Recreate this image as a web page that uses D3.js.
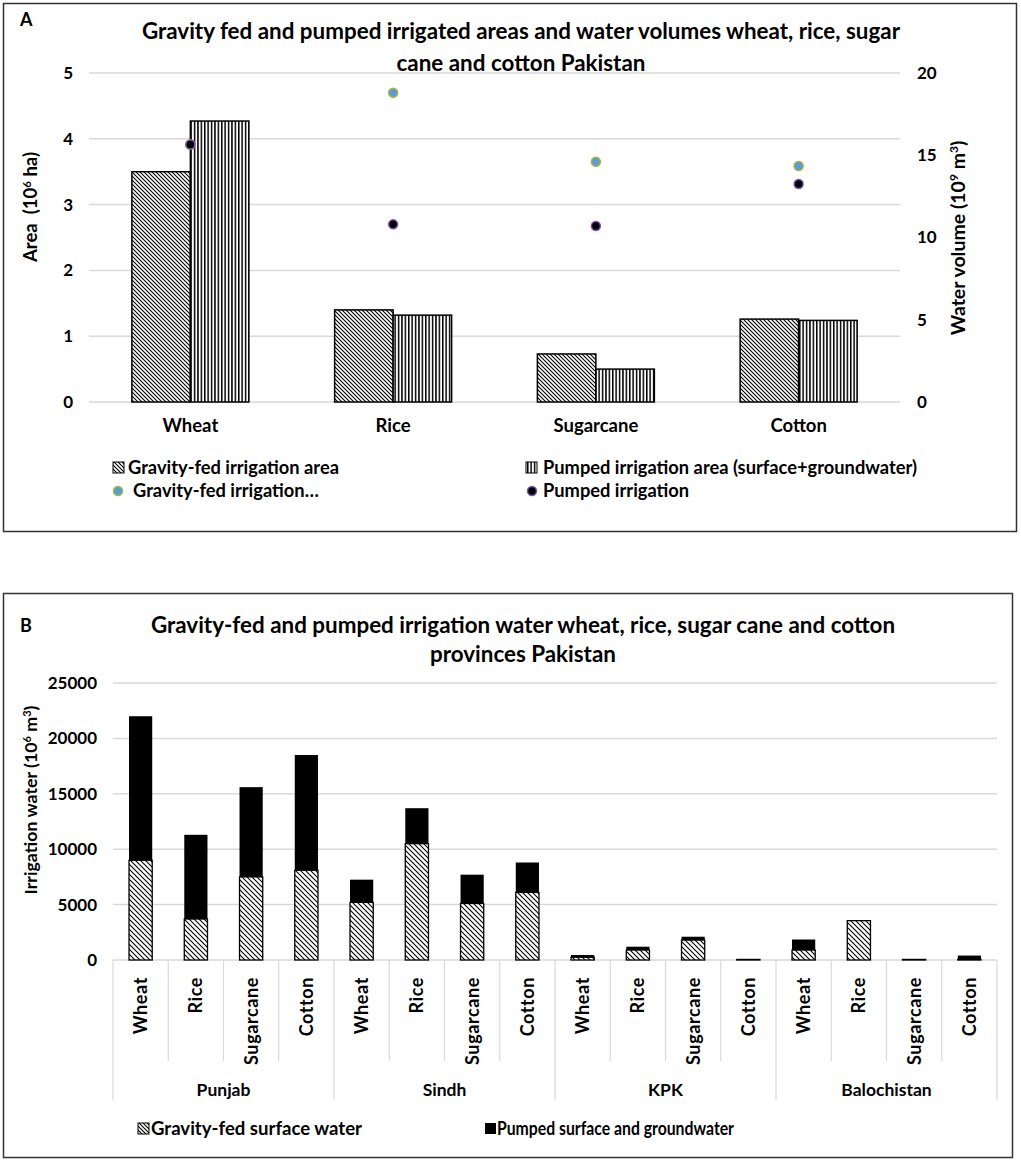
<!DOCTYPE html>
<html>
<head>
<meta charset="utf-8">
<script src="https://cdn.jsdelivr.net/npm/d3@7"></script>
<style>
body{margin:0;background:#fff;}
text{font-family:Lato,"Open Sans",sans-serif;font-weight:bold;fill:#000;}
</style>
</head>
<body>
<svg id="fig" width="1021" height="1163"></svg>
<script>
// panel A data
var cropsA = ["Wheat","Rice","Sugarcane","Cotton"];
var gravityArea = [3.5,1.4,0.73,1.26];
var pumpedArea = [4.27,1.32,0.5,1.24];
var gravityVol = [15.65,18.8,14.6,14.35];
var pumpedVol = [15.65,10.8,10.7,13.25];
var areaTicks = [0,1,2,3,4,5];
var volTicks = [0,5,10,15,20];

// panel B data
var provinces = ["Punjab","Sindh","KPK","Balochistan"];
var cropsB = ["Wheat","Rice","Sugarcane","Cotton"];
var gravityWater = [9000,3700,7500,8100, 5200,10500,5100,6100, 250,900,1800,50, 900,3550,50,50];
var pumpedWater = [13000,7600,8100,10400, 2050,3200,2600,2700, 200,300,300,30, 950,0,30,350];
var waterTicks = [0,5000,10000,15000,20000,25000];

var FONT = "Lato,'Open Sans',sans-serif";
var svg = d3.select("#fig");
var defs = svg.append("defs");

function diagPattern(id,s){
	var p = defs.append("pattern").attr("id",id).attr("patternUnits","userSpaceOnUse")
		.attr("width",s).attr("height",s);
	p.append("rect").attr("width",s).attr("height",s).attr("fill","#fff");
	p.append("path").attr("d","M0,0L"+s+","+s+"M-1,"+(s-1)+"L1,"+(s+1)+"M"+(s-1)+",-1L"+(s+1)+",1")
		.attr("stroke","#000").attr("stroke-width",1.1);
}
diagPattern("diagA",4);
diagPattern("diagB",5);
var pv = defs.append("pattern").attr("id","vert").attr("patternUnits","userSpaceOnUse")
	.attr("width",3.4).attr("height",4);
pv.append("rect").attr("width",3.4).attr("height",4).attr("fill","#fff");
pv.append("rect").attr("x",0).attr("width",1.5).attr("height",4).attr("fill","#000");

// frames
svg.append("rect").attr("x",3.5).attr("y",3.5).attr("width",1013).attr("height",528)
	.attr("fill","none").attr("stroke","#333").attr("stroke-width",1.5);
svg.append("rect").attr("x",3.5).attr("y",593.5).attr("width",1009).attr("height",564)
	.attr("fill","none").attr("stroke","#333").attr("stroke-width",1.5);

function supText(g,x,y,rot,parts,size){
	var t = g.append("text").attr("transform","translate("+x+","+y+") rotate("+rot+")")
		.attr("text-anchor","middle").attr("font-size",size).attr("xml:space","preserve");
	parts.forEach(function(p){
		if (p[1]) t.append("tspan").attr("baseline-shift","super").attr("font-size",size*0.62).text(p[0]);
		else t.append("tspan").text(p[0]);
	});
	return t;
}
function styleAxis(ax,size){
	ax.select(".domain").remove();
	ax.selectAll("text").attr("font-size",size).style("font-family",FONT).style("font-weight","bold");
}

// ---------- panel A ----------
var gA = svg.append("g");
gA.append("text").attr("x",20).attr("y",26).attr("font-size",18).text("A");
gA.append("text").attr("x",521).attr("y",39).attr("text-anchor","middle").attr("font-size",22.4)
	.text("Gravity fed and pumped irrigated areas and water volumes wheat, rice, sugar");
gA.append("text").attr("x",521).attr("y",71).attr("text-anchor","middle").attr("font-size",22.4)
	.text("cane and cotton Pakistan");

var xA = d3.scaleBand().domain(cropsA).range([89,900]);
var subA = d3.scaleBand().domain(["g","p"]).range([0,xA.bandwidth()]).paddingOuter(0.733);
var yA = d3.scaleLinear().domain([0,5]).range([402,73]);
var yV = d3.scaleLinear().domain([0,20]).range([402,73]);

gA.append("g").selectAll("line").data(areaTicks).enter().append("line")
	.attr("x1",89).attr("x2",900).attr("y1",function(d){return yA(d);}).attr("y2",function(d){return yA(d);})
	.attr("stroke","#d9d9d9").attr("stroke-width",1.5);

var axL = gA.append("g").attr("transform","translate(89,0)")
	.call(d3.axisLeft(yA).tickValues(areaTicks).tickFormat(d3.format("d")).tickSize(0).tickPadding(16));
styleAxis(axL,17);

var axR = gA.append("g").attr("transform","translate(900,0)")
	.call(d3.axisRight(yV).tickValues(volTicks).tickFormat(d3.format("d")).tickSize(0).tickPadding(17));
styleAxis(axR,17);

var axB = gA.append("g").attr("transform","translate(0,402)")
	.call(d3.axisBottom(xA).tickSize(0).tickPadding(17));
styleAxis(axB,18.5);

gA.append("g").selectAll("rect").data(cropsA).enter().append("rect")
	.attr("x",function(d){return xA(d)+subA("g");}).attr("width",subA.bandwidth())
	.attr("y",function(d,i){return yA(gravityArea[i]);})
	.attr("height",function(d,i){return yA(0)-yA(gravityArea[i]);})
	.attr("fill","url(#diagA)").attr("stroke","#000").attr("stroke-width",1.5);
gA.append("g").selectAll("rect").data(cropsA).enter().append("rect")
	.attr("x",function(d){return xA(d)+subA("p");}).attr("width",subA.bandwidth())
	.attr("y",function(d,i){return yA(pumpedArea[i]);})
	.attr("height",function(d,i){return yA(0)-yA(pumpedArea[i]);})
	.attr("fill","url(#vert)").attr("stroke","#000").attr("stroke-width",1.5);

gA.append("g").selectAll("circle").data(cropsA).enter().append("circle")
	.attr("cx",function(d){return xA(d)+xA.bandwidth()/2;})
	.attr("cy",function(d,i){return yV(gravityVol[i]);}).attr("r",4.5)
	.attr("fill","#5b9bd5").attr("stroke","#9bbb3b").attr("stroke-width",1.5);
gA.append("g").selectAll("circle").data(cropsA).enter().append("circle")
	.attr("cx",function(d){return xA(d)+xA.bandwidth()/2;})
	.attr("cy",function(d,i){return yV(pumpedVol[i]);}).attr("r",4.5)
	.attr("fill","#000").attr("stroke","#7e4fb5").attr("stroke-width",1.5);

supText(gA,37,207,-90,[["Area  (10"],["6",true],[" ha)"]],18.5);
supText(gA,965,238,-90,[["Water volume (10"],["9",true],[" m"],["3",true],[")"]],19.5);

// legend A
var legA = gA.append("g").attr("font-size",18.3);
legA.append("rect").attr("x",113).attr("y",462).attr("width",11).attr("height",11)
	.attr("fill","url(#diagA)").attr("stroke","#000").attr("stroke-width",1);
legA.append("text").attr("x",128).attr("y",474).text("Gravity-fed irrigation area");
legA.append("rect").attr("x",526).attr("y",462).attr("width",11).attr("height",11)
	.attr("fill","url(#vert)").attr("stroke","#000").attr("stroke-width",1);
legA.append("text").attr("x",543).attr("y",474).text("Pumped irrigation area (surface+groundwater)");
legA.append("circle").attr("cx",118).attr("cy",491).attr("r",4.5)
	.attr("fill","#5b9bd5").attr("stroke","#9bbb3b").attr("stroke-width",1.5);
legA.append("text").attr("x",133).attr("y",497).text("Gravity-fed irrigation…");
legA.append("circle").attr("cx",532).attr("cy",491).attr("r",4.5)
	.attr("fill","#000").attr("stroke","#7e4fb5").attr("stroke-width",1.5);
legA.append("text").attr("x",543).attr("y",497).text("Pumped irrigation");

// ---------- panel B ----------
var gB = svg.append("g");
gB.append("text").attr("x",20).attr("y",632).attr("font-size",18).text("B");
gB.append("text").attr("x",523).attr("y",633).attr("text-anchor","middle").attr("font-size",22.4)
	.text("Gravity-fed and pumped irrigation water wheat, rice, sugar cane and cotton");
gB.append("text").attr("x",523).attr("y",662).attr("text-anchor","middle").attr("font-size",22.4)
	.text("provinces Pakistan");

var idx = d3.range(provinces.length*cropsB.length);
var xB = d3.scaleBand().domain(idx).range([113,997]).paddingInner(0.58).paddingOuter(0.29);
var step = xB.step();
var yB = d3.scaleLinear().domain([0,25000]).range([960,683]);

gB.append("g").selectAll("line").data(waterTicks.slice(1)).enter().append("line")
	.attr("x1",113).attr("x2",997).attr("y1",function(d){return yB(d);}).attr("y2",function(d){return yB(d);})
	.attr("stroke","#d9d9d9").attr("stroke-width",1.5);

var axBL = gB.append("g").attr("transform","translate(113,0)")
	.call(d3.axisLeft(yB).tickValues(waterTicks).tickFormat(d3.format("d")).tickSize(0).tickPadding(16));
styleAxis(axBL,17);

// category axis lines
gB.append("line").attr("x1",113).attr("x2",997).attr("y1",yB(0)).attr("y2",yB(0))
	.attr("stroke","#d9d9d9").attr("stroke-width",1.5);
gB.append("g").selectAll("line").data(d3.range(idx.length+1)).enter().append("line")
	.attr("x1",function(d){return 113+d*step;}).attr("x2",function(d){return 113+d*step;})
	.attr("y1",yB(0)).attr("y2",function(d){return d%4==0 ? 1100 : 1061;})
	.attr("stroke","#d9d9d9").attr("stroke-width",1.2);

gB.append("g").selectAll("rect").data(idx).enter().append("rect")
	.attr("x",function(d){return xB(d);}).attr("width",xB.bandwidth())
	.attr("y",function(d){return yB(gravityWater[d]);})
	.attr("height",function(d){return yB(0)-yB(gravityWater[d]);})
	.attr("fill","url(#diagB)").attr("stroke","#000").attr("stroke-width",1.3);
gB.append("g").selectAll("rect").data(idx).enter().append("rect")
	.attr("x",function(d){return xB(d);}).attr("width",xB.bandwidth())
	.attr("y",function(d){return yB(gravityWater[d]+pumpedWater[d]);})
	.attr("height",function(d){return yB(gravityWater[d])-yB(gravityWater[d]+pumpedWater[d]);})
	.attr("fill","#000");

gB.append("g").selectAll("text").data(idx).enter().append("text")
	.attr("transform",function(d){return "translate("+(xB(d)+xB.bandwidth()/2)+",977) rotate(-90)";})
	.attr("text-anchor","end").attr("dy","0.36em").attr("font-size",18).attr("letter-spacing",0.6)
	.text(function(d){return cropsB[d%4];});
gB.append("g").selectAll("text").data(provinces).enter().append("text")
	.attr("x",function(d,i){return 113+(i*4+2)*step;}).attr("y",1096)
	.attr("text-anchor","middle").attr("font-size",17.5).text(function(d){return d;});

supText(gB,37,800,-90,[["Irrigation water (10"],["6",true],[" m"],["3",true],[")"]],17.8);

// legend B (condensed text, as in the original)
var legB = gB.append("g").attr("font-size",18.5);
legB.append("rect").attr("x",138).attr("y",1123).attr("width",11).attr("height",11)
	.attr("fill","url(#diagA)").attr("stroke","#000").attr("stroke-width",1);
legB.append("text").attr("x",151).attr("y",1135).attr("textLength",211).attr("lengthAdjust","spacingAndGlyphs")
	.text("Gravity-fed surface water");
legB.append("rect").attr("x",485).attr("y",1123).attr("width",11).attr("height",11).attr("fill","#000");
legB.append("text").attr("x",497).attr("y",1135).attr("textLength",237).attr("lengthAdjust","spacingAndGlyphs")
	.text("Pumped surface and groundwater");
</script>
</body>
</html>
